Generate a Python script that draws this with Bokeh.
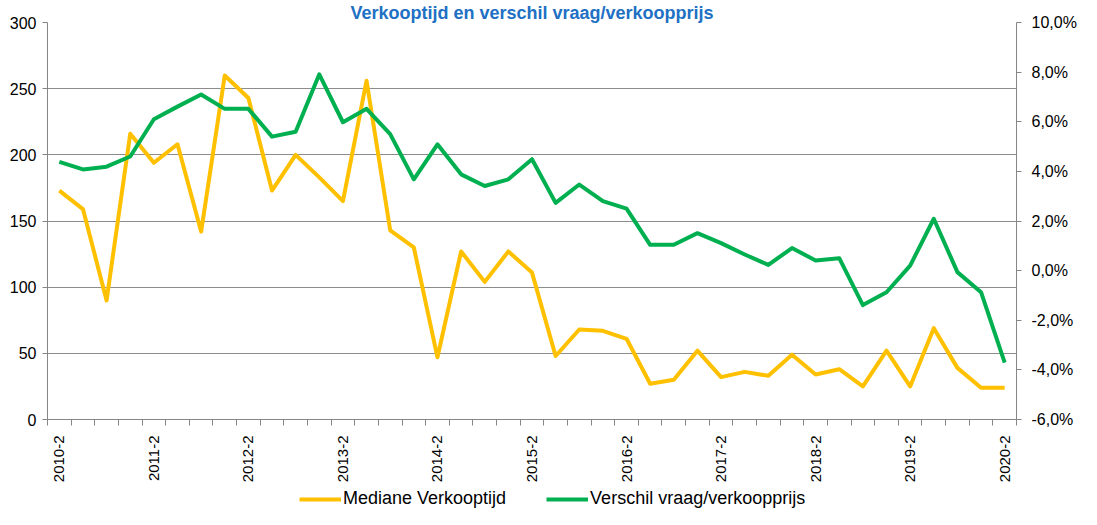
import math
from bokeh.plotting import figure
from bokeh.layouts import column
from bokeh.models import (Range1d, LinearAxis, FixedTicker, CustomJSTickFormatter,
                          Legend, LegendItem, ColumnDataSource)
from bokeh.embed import file_html
from bokeh.resources import INLINE

quarters = ["2010-2", "2010-3", "2010-4", "2011-1", "2011-2", "2011-3", "2011-4",
            "2012-1", "2012-2", "2012-3", "2012-4", "2013-1", "2013-2", "2013-3",
            "2013-4", "2014-1", "2014-2", "2014-3", "2014-4", "2015-1", "2015-2",
            "2015-3", "2015-4", "2016-1", "2016-2", "2016-3", "2016-4", "2017-1",
            "2017-2", "2017-3", "2017-4", "2018-1", "2018-2", "2018-3", "2018-4",
            "2019-1", "2019-2", "2019-3", "2019-4", "2020-1", "2020-2"]
labelled_quarters = ["2010-2", "2011-2", "2012-2", "2013-2", "2014-2", "2015-2",
                     "2016-2", "2017-2", "2018-2", "2019-2", "2020-2"]
verkooptijd = [173, 159, 90, 216, 194, 208, 142, 260, 243, 173,
               200, 183, 165, 256, 143, 130, 47, 127, 104, 127,
               111, 48, 68, 67, 61, 27, 30, 52, 32, 36,
               33, 49, 34, 38, 25, 52, 25, 69, 39, 24, 24]
verschil = [4.38, 4.08, 4.19, 4.6, 6.1, 6.61, 7.1, 6.52, 6.52, 5.4,
            5.6, 7.91, 5.98, 6.52, 5.5, 3.68, 5.09, 3.88, 3.41, 3.68,
            4.49, 2.73, 3.47, 2.8, 2.5, 1.04, 1.04, 1.51, 1.11, 0.65,
            0.23, 0.91, 0.41, 0.5, -1.39, -0.87, 0.2, 2.09, -0.06, -0.87, -3.71]
left_ticks = [0, 50, 100, 150, 200, 250, 300]
right_ticks = [-6, -4, -2, 0, 2, 4, 6, 8, 10]
series_names = ["Mediane Verkooptijd", "Verschil vraag/verkoopprijs"]
title_text = "Verkooptijd en verschil vraag/verkoopprijs"

n = len(quarters)
xs = list(range(n))
src = ColumnDataSource(dict(x=xs, q=quarters, t=verkooptijd, v=verschil))

FONT = "Liberation Sans"
GRID = "#8c8c8c"
AXIS = "#868686"
YELLOW = "#FFC000"
GREEN = "#00B050"

W = 1081
H_MAIN, H_LEG = 485, 24
p = figure(width=W, height=H_MAIN, output_backend="svg", toolbar_location=None,
           x_range=Range1d(-0.5, n - 0.5), y_range=Range1d(0, 300),
           min_border_left=47, min_border_right=65, min_border_top=4,
           min_border_bottom=65)
p.outline_line_color = None
p.background_fill_color = "white"
p.border_fill_color = "white"

p.title.text = title_text
p.title.align = "center"
p.title.offset = -12
p.title.standoff = 0
p.title.text_font = FONT
p.title.text_font_style = "bold"
p.title.text_font_size = "18px"
p.title.text_color = "#2170C4"

p.extra_y_ranges = {"pct": Range1d(-6, 10)}

# x axis
label_pos = [quarters.index(q) for q in labelled_quarters]
xax = p.xaxis[0]
xax.ticker = FixedTicker(ticks=label_pos, minor_ticks=[i - 0.5 for i in range(n + 1)])
xax.major_label_overrides = {i: quarters[i] for i in label_pos}
xax.major_label_orientation = math.pi / 2
xax.major_tick_out = 0
xax.major_tick_in = 0
xax.minor_tick_out = 6
xax.minor_tick_in = 0
xax.minor_tick_line_color = AXIS
xax.axis_line_color = AXIS
xax.major_label_standoff = 10
xax.major_label_text_font = FONT
xax.major_label_text_font_size = "15px"
xax.major_label_text_color = "#000000"

# left axis
yax = p.yaxis[0]
yax.ticker = FixedTicker(ticks=left_ticks)
yax.major_tick_out = 5
yax.major_tick_in = 0
yax.minor_tick_out = 0
yax.minor_tick_in = 0
yax.axis_line_color = AXIS
yax.major_tick_line_color = AXIS
yax.major_label_text_font = FONT
yax.major_label_text_font_size = "16px"
yax.major_label_text_color = "#000000"
yax.major_label_standoff = 6

# right axis
rax = LinearAxis(y_range_name="pct", ticker=FixedTicker(ticks=right_ticks),
                 formatter=CustomJSTickFormatter(code="return tick.toFixed(1).replace('.', ',') + '%';"))
rax.major_tick_out = 5
rax.major_tick_in = 0
rax.minor_tick_out = 0
rax.minor_tick_in = 0
rax.axis_line_color = AXIS
rax.major_tick_line_color = AXIS
rax.major_label_text_font = FONT
rax.major_label_text_font_size = "16px"
rax.major_label_text_color = "#000000"
rax.major_label_standoff = 10
p.add_layout(rax, "right")

p.xgrid.grid_line_color = None
p.ygrid.ticker = FixedTicker(ticks=left_ticks)
p.ygrid.grid_line_color = GRID
p.ygrid.grid_line_width = 1

p.line("x", "t", source=src, line_color=YELLOW, line_width=4, line_join="round")
p.line("x", "v", source=src, line_color=GREEN, line_width=4, line_join="round",
       y_range_name="pct")

# legend strip (separate figure below the chart)
lg = figure(width=W, height=H_LEG, output_backend="svg", toolbar_location=None,
            x_range=Range1d(-100, -99), y_range=Range1d(0, 1),
            min_border=0)
lg.axis.visible = False
lg.grid.visible = False
lg.outline_line_color = None
lg.background_fill_color = "white"
lg.border_fill_color = "white"
l1 = lg.line("x", "t", source=src, line_color=YELLOW, line_width=4)
l2 = lg.line("x", "v", source=src, line_color=GREEN, line_width=4)
legend = Legend(items=[LegendItem(label=series_names[0], renderers=[l1]),
                       LegendItem(label=series_names[1], renderers=[l2])],
                orientation="horizontal", location=(252, 0))
legend.glyph_width = 42
legend.glyph_height = 20
legend.label_standoff = 2
legend.spacing = 40
legend.padding = 1
legend.margin = 0
legend.label_text_font = FONT
legend.label_text_font_size = "18px"
legend.label_text_color = "#000000"
legend.border_line_color = None
legend.background_fill_alpha = 0
lg.add_layout(legend)

layout = column(p, lg, spacing=0)
open("out.html", "w").write(file_html(layout, INLINE))
